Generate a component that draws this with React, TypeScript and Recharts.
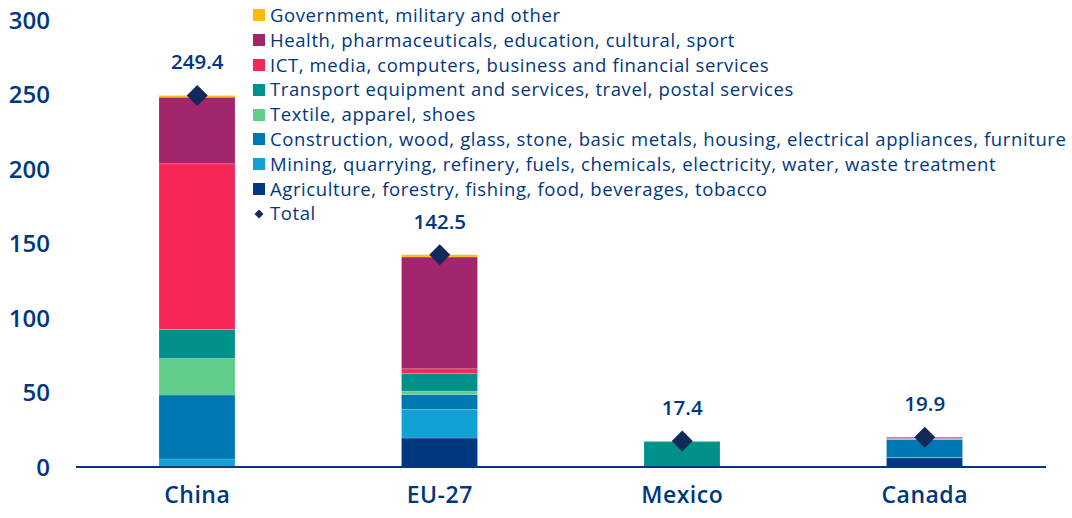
import React from 'react';
import { ComposedChart, Bar, Line, XAxis, YAxis, Legend, LabelList } from 'recharts';

const categories = ['China', 'EU-27', 'Mexico', 'Canada'];
const agriculture = [0, 19.4, 0, 6.2];
const mining = [5.4, 19.2, 0, 0.2];
const construction = [42.9, 10.1, 0, 12.1];
const textile = [24.6, 2.2, 0, 0.1];
const transport = [19.4, 11.9, 17.0, 0.6];
const ict = [111.2, 3.1, 0.2, 0.2];
const health = [44.7, 75.0, 0.2, 0.5];
const government = [1.2, 1.6, 0, 0];
const totals = [249.4, 142.5, 17.4, 19.9];
const yTicks = [0, 50, 100, 150, 200, 250, 300];

const series = [
  { key: 'agriculture', name: 'Agriculture, forestry, fishing, food, beverages, tobacco', values: agriculture, color: '#003781' },
  { key: 'mining', name: 'Mining, quarrying, refinery, fuels, chemicals, electricity, water, waste treatment', values: mining, color: '#13A0D3' },
  { key: 'construction', name: 'Construction, wood, glass, stone, basic metals, housing, electrical appliances, furniture', values: construction, color: '#0076B3' },
  { key: 'textile', name: 'Textile, apparel, shoes', values: textile, color: '#61CD8A' },
  { key: 'transport', name: 'Transport equipment and services, travel, postal services', values: transport, color: '#00908A' },
  { key: 'ict', name: 'ICT, media, computers, business and financial services', values: ict, color: '#F7265A' },
  { key: 'health', name: 'Health, pharmaceuticals, education, cultural, sport', values: health, color: '#A3266D' },
  { key: 'government', name: 'Government, military and other', values: government, color: '#FDB913' },
];

const data = categories.map((c, i) => {
  const row: any = { name: c, total: totals[i] };
  series.forEach((s) => { row[s.key] = s.values[i]; });
  return row;
});

const TEXT = '#003781';
const FONT = '"Open Sans", Lato, sans-serif';

const Diamond = (props: any) => {
  const { cx, cy } = props;
  if (cx == null || cy == null) return null;
  const r = 10.5;
  return <polygon points={`${cx},${cy - r} ${cx + r},${cy} ${cx},${cy + r} ${cx - r},${cy}`} fill="#13295A" />;
};

const LegendContent = () => {
  const items = [...series].reverse();
  return (
    <div style={{ fontFamily: FONT, fontSize: 18.5, fontWeight: 500, letterSpacing: 0.6, color: TEXT, lineHeight: '24.8px' }}>
      {items.map((s) => (
        <div key={s.key} style={{ display: 'flex', alignItems: 'center', whiteSpace: 'nowrap' }}>
          <span style={{ display: 'inline-block', width: 12, height: 12, background: s.color, marginRight: 5 }} />
          <span>{s.name}</span>
        </div>
      ))}
      <div style={{ display: 'flex', alignItems: 'center', whiteSpace: 'nowrap' }}>
        <svg width={12} height={12} style={{ marginRight: 5 }}>
          <polygon points="6,1.5 10.5,6 6,10.5 1.5,6" fill="#13295A" />
        </svg>
        <span>Total</span>
      </div>
    </div>
  );
};

export default function App() {
  return (
    <div style={{ position: 'absolute', left: 0, top: 0, width: 1072, height: 518, background: '#fff' }}>
      <ComposedChart
        width={1072}
        height={518}
        data={data}
        margin={{ top: 20, right: 26, bottom: 11, left: 16 }}
        barCategoryGap={0}
      >
        <XAxis
          dataKey="name"
          axisLine={{ stroke: TEXT, strokeWidth: 2 }}
          tickLine={false}
          height={40}
          tickMargin={14}
          tick={{ fill: TEXT, fontSize: 23, fontWeight: 600, fontFamily: FONT, letterSpacing: 0.5 }}
        />
        <YAxis
          domain={[0, 300]}
          ticks={yTicks}
          axisLine={false}
          tickLine={false}
          tickSize={0}
          tickMargin={26}
          width={60}
          tick={{ fill: TEXT, fontSize: 24, fontWeight: 600, fontFamily: FONT }}
        />
        <Legend
          layout="vertical"
          align="center"
          verticalAlign="middle"
          content={<LegendContent />}
          wrapperStyle={{ left: 253, top: 3, width: 815, height: 225 }}
        />
        {series.map((s) => (
          <Bar
            key={s.key}
            dataKey={s.key}
            name={s.name}
            stackId="a"
            fill={s.color}
            barSize={76}
            stroke="#ffffff"
            strokeOpacity={0.35}
            strokeWidth={0.5}
            isAnimationActive={false}
          />
        ))}
        <Line
          dataKey="total"
          name="Total"
          stroke="none"
          dot={<Diamond />}
          activeDot={false}
          isAnimationActive={false}
        >
          <LabelList
            dataKey="total"
            position="top"
            offset={26}
            formatter={(v: any) => Number(v).toFixed(1)}
            style={{ fill: TEXT, fontSize: 20.5, fontWeight: 600, fontFamily: FONT }}
          />
        </Line>
      </ComposedChart>
    </div>
  );
}
